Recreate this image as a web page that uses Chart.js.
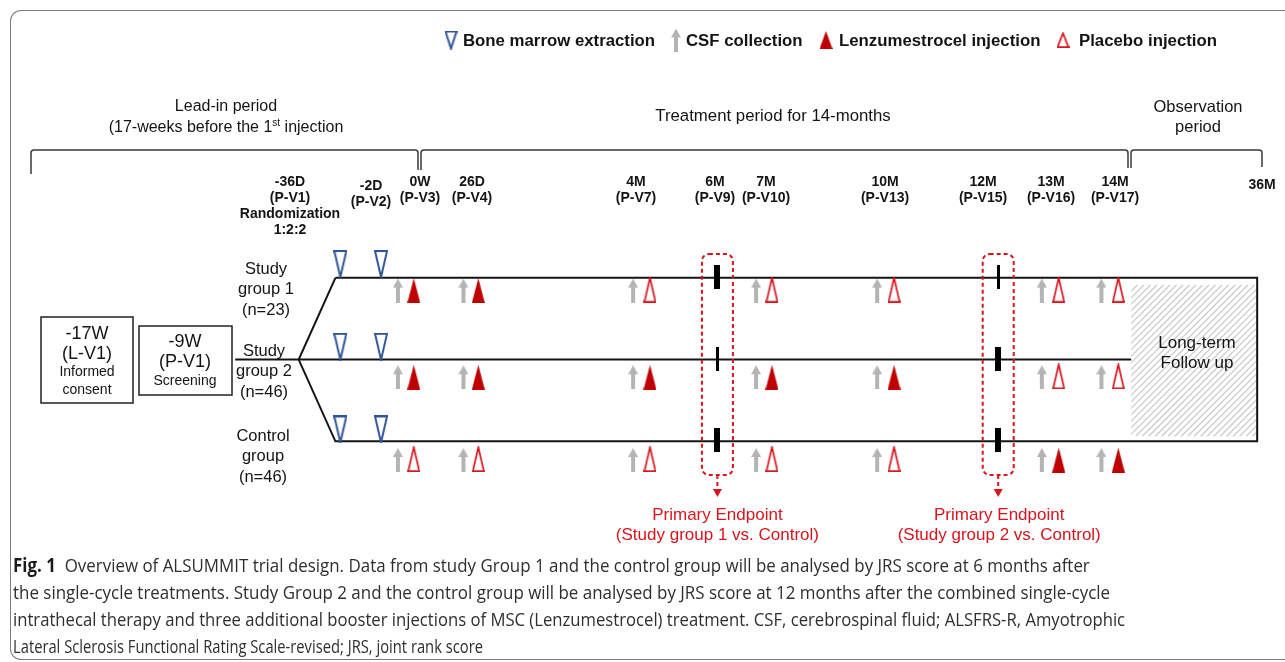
<!DOCTYPE html>
<html>
<head>
<meta charset="utf-8">
<script src="https://cdn.jsdelivr.net/npm/chart.js@4"></script>
<style>
  html, body { margin: 0; padding: 0; background: #fff; overflow: hidden; }
  body { width: 1285px; height: 662px; position: relative; }
  #frame { position: absolute; left: 10px; top: 10px; width: 1290px; height: 648px; border: 1.5px solid #7d7d7d; border-right: none; border-radius: 11px 0 0 11px; }
  #diagram { position: absolute; left: 0; top: 0; }
  #caption { position: absolute; left: 13px; top: 552px; font-family: 'Open Sans', sans-serif; font-size: 19px; line-height: 27px; color: #2e2e2e; white-space: nowrap; }
  #caption span { display: inline-block; transform-origin: 0 50%; }
  #caption b { color: #1a1a1a; }
</style>
</head>
<body>
<div id="frame"></div>
<canvas id="diagram" width="1285" height="662"></canvas>
<div id="caption">
  <div><span><b>Fig. 1</b>&nbsp; Overview of ALSUMMIT trial design. Data from study Group 1 and the control group will be analysed by JRS score at 6 months after</span></div>
  <div><span>the single-cycle treatments. Study Group 2 and the control group will be analysed by JRS score at 12 months after the combined single-cycle</span></div>
  <div><span>intrathecal therapy and three additional booster injections of MSC (Lenzumestrocel) treatment. CSF, cerebrospinal fluid; ALSFRS-R, Amyotrophic</span></div>
  <div><span>Lateral Sclerosis Functional Rating Scale-revised; JRS, joint rank score</span></div>
</div>
<script>
// schematic timeline: x = position along the trial timeline, y = arm row
const GROUPS = ['Study group 1', 'Study group 2', 'Control group'];
const GROUP_N = [23, 46, 46];
const GROUP_ROW = [277, 360, 443];

const VISITS = ['-36D', '-2D', '0W', '26D', '4M', '6M', '7M', '10M', '12M', '13M', '14M', '36M'];
const VISIT_CODES = ['P-V1', 'P-V2', 'P-V3', 'P-V4', 'P-V7', 'P-V9', 'P-V10', 'P-V13', 'P-V15', 'P-V16', 'P-V17', null];

// events on the timeline
const BONE_MARROW_T = [338, 379];
const CSF_T = [396, 462, 633, 757, 879, 1045, 1105];
const INJECTION_T = [412, 477, 650, 773, 896, 1062, 1122];
const INJECTION_KIND = [
  ['L', 'L', 'P', 'P', 'P', 'P', 'P'],
  ['L', 'L', 'L', 'L', 'L', 'P', 'P'],
  ['P', 'P', 'P', 'P', 'P', 'L', 'L'],
];
const ASSESS_T = [718, 1001];          // JRS at 6M and 12M
const ASSESS_PRIMARY = [[1, 0], [0, 1], [1, 1]];
const ENDPOINT_LABELS = ['(Study group 1 vs. Control)', '(Study group 2 vs. Control)'];

// arm geometry
const SCREEN_END = 232;
const BRANCH_T = 296;
const ARM_START = 333;
const FOLLOW_START = 1135;
const FOLLOW_END = 1262;

const RED = '#c00000';
const RED_LINE = '#d8141c';
const BLUE = '#2f5597';
const GREY = '#b4b4b4';
const INK = '#141414';
const FONT = "'Liberation Sans', Arial, sans-serif";

// marker offsets from each row line
const DROP_BELOW = [13, 18, 19];
const LIFT_ABOVE = [14, 13, 12];

function makeSprite(w, h, paint) {
  const c = document.createElement('canvas');
  c.width = w; c.height = h;
  paint(c.getContext('2d'), w, h);
  return c;
}
const filledTri = (ctx, w, h) => {
  ctx.fillStyle = RED;
  ctx.beginPath(); ctx.moveTo(w / 2, 0); ctx.lineTo(w, h); ctx.lineTo(0, h); ctx.closePath(); ctx.fill();
};
const openTri = (ctx, w, h) => {
  ctx.strokeStyle = RED_LINE; ctx.lineWidth = 1.7;
  ctx.beginPath(); ctx.moveTo(w / 2, 1.2); ctx.lineTo(w - 1, h - 0.9); ctx.lineTo(1, h - 0.9); ctx.closePath(); ctx.stroke();
};
const downTri = (ctx, w, h) => {
  ctx.strokeStyle = BLUE; ctx.lineWidth = 2;
  ctx.beginPath(); ctx.moveTo(1, 1); ctx.lineTo(w - 1, 1); ctx.lineTo(w / 2, h - 1); ctx.closePath(); ctx.stroke();
};
const upArrow = (ctx, w, h) => {
  const head = Math.round(w * 0.9), s = 2;
  ctx.fillStyle = GREY;
  ctx.beginPath();
  ctx.moveTo(w / 2, 0); ctx.lineTo(w, head); ctx.lineTo(w / 2 + s, head); ctx.lineTo(w / 2 + s, h);
  ctx.lineTo(w / 2 - s, h); ctx.lineTo(w / 2 - s, head); ctx.lineTo(0, head); ctx.closePath(); ctx.fill();
};
const bar = (ctx, w, h) => { ctx.fillStyle = '#000'; ctx.fillRect(0, 0, w, h); };

const SPRITES = {
  filled: makeSprite(13, 25, filledTri),
  open: makeSprite(13, 26, openTri),
  marrow: makeSprite(14, 28, downTri),
  csf: makeSprite(10, 24, upArrow),
  thick: makeSprite(6, 24, bar),
  thin: makeSprite(3, 24, bar),
};
const LEGEND_SPRITES = {
  marrow: makeSprite(13, 19, downTri),
  csf: makeSprite(10, 23, upArrow),
  filled: makeSprite(13, 18, filledTri),
  open: makeSprite(13, 16, openTri),
};

function markerSet(points, sprite) {
  return { data: points, pointStyle: sprite, pointRadius: 1, showLine: false };
}
function lineSet(points) {
  return { data: points, showLine: true, borderColor: INK, borderWidth: 2, pointRadius: 0, fill: false, tension: 0 };
}

const datasets = [];
GROUP_ROW.forEach((row, g) => {
  const below = row + DROP_BELOW[g];
  datasets.push(markerSet(ASSESS_T.filter((_, k) => ASSESS_PRIMARY[g][k]).map(t => ({ x: t, y: row - 1 })), SPRITES.thick));
  datasets.push(markerSet(ASSESS_T.filter((_, k) => !ASSESS_PRIMARY[g][k]).map(t => ({ x: t, y: row - 1 })), SPRITES.thin));
  datasets.push(markerSet(BONE_MARROW_T.map(t => ({ x: t, y: row - LIFT_ABOVE[g] })), SPRITES.marrow));
  datasets.push(markerSet(CSF_T.map(t => ({ x: t, y: below })), SPRITES.csf));
  datasets.push(markerSet(INJECTION_T.filter((_, k) => INJECTION_KIND[g][k] === 'L').map(t => ({ x: t, y: below })), SPRITES.filled));
  datasets.push(markerSet(INJECTION_T.filter((_, k) => INJECTION_KIND[g][k] === 'P').map(t => ({ x: t, y: below - 1 })), SPRITES.open));
});
datasets.push(lineSet([{ x: ARM_START, y: GROUP_ROW[0] }, { x: FOLLOW_END, y: GROUP_ROW[0] }, { x: FOLLOW_END, y: GROUP_ROW[2] }, { x: ARM_START, y: GROUP_ROW[2] }, { x: BRANCH_T, y: GROUP_ROW[1] }, { x: ARM_START, y: GROUP_ROW[0] }]));
datasets.push(lineSet([{ x: SCREEN_END, y: GROUP_ROW[1] }, { x: FOLLOW_START, y: GROUP_ROW[1] }]));

function drawText(ctx, str, x, y, size, opts = {}) {
  ctx.font = `${opts.bold ? 'bold ' : ''}${size}px ${FONT}`;
  ctx.fillStyle = opts.color || INK;
  ctx.textAlign = opts.align || 'center';
  ctx.textBaseline = 'middle';
  ctx.fillText(str, x, y);
}
function drawLines(ctx, lines, x, y0, gap, size, opts) {
  lines.forEach((s, i) => drawText(ctx, s, x, y0 + i * gap, size, opts));
}

const trialDiagram = {
  id: 'trialDiagram',
  beforeDatasetsDraw(chart) {
    const { ctx, scales: { x, y } } = chart;
    const px = v => x.getPixelForValue(v), py = v => y.getPixelForValue(v);
    ctx.save();
    // follow-up hatch
    const hx = px(FOLLOW_START), hy = py(GROUP_ROW[0] + 7), hw = px(FOLLOW_END) - hx, hh = py(GROUP_ROW[2] - 5) - hy;
    ctx.save();
    ctx.beginPath(); ctx.rect(hx, hy, hw, hh); ctx.clip();
    ctx.strokeStyle = '#cdcdcd'; ctx.lineWidth = 1.4;
    ctx.beginPath();
    for (let k = -hh; k < hw + hh; k += 6.5) { ctx.moveTo(hx + k, hy + hh); ctx.lineTo(hx + k + hh, hy); }
    ctx.stroke();
    ctx.restore();
    // period brackets
    ctx.strokeStyle = '#3a3a3a'; ctx.lineWidth = 1.5;
    const bracket = (a, b, ya, yb) => {
      ctx.beginPath();
      ctx.moveTo(a, ya); ctx.lineTo(a, 153); ctx.quadraticCurveTo(a, 150, a + 3, 150);
      ctx.lineTo(b - 3, 150); ctx.quadraticCurveTo(b, 150, b, 153); ctx.lineTo(b, yb);
      ctx.stroke();
    };
    bracket(31, 418, 174, 170);
    bracket(421, 1128, 170, 168);
    bracket(1131, 1262, 168, 167);
    // visit boxes
    ctx.strokeStyle = '#222'; ctx.lineWidth = 1.5;
    ctx.strokeRect(41, 317, 92, 86);
    ctx.strokeRect(139, 326, 93, 69);
    ctx.restore();
  },
  afterDatasetsDraw(chart) {
    const { ctx, scales: { x } } = chart;
    const px = v => x.getPixelForValue(v);
    ctx.save();

    // legend
    const legend = [
      ['marrow', 451, 'Bone marrow extraction', 463],
      ['csf', 676, 'CSF collection', 686],
      ['filled', 826, 'Lenzumestrocel injection', 839],
      ['open', 1063, 'Placebo injection', 1079],
    ];
    legend.forEach(([key, mx, label, tx]) => {
      const s = LEGEND_SPRITES[key];
      ctx.drawImage(s, mx - s.width / 2, 40 - s.height / 2);
      drawText(ctx, label, tx, 41, 16.8, { bold: true, align: 'left' });
    });

    // periods
    drawText(ctx, 'Lead-in period', 226, 107, 16);
    ctx.font = `16px ${FONT}`;
    const pre = '(17-weeks before the 1', post = ' injection';
    const wPre = ctx.measureText(pre).width, wPost = ctx.measureText(post).width;
    ctx.font = `10px ${FONT}`;
    const wSup = ctx.measureText('st').width;
    const sx = 226 - (wPre + wSup + wPost) / 2;
    drawText(ctx, pre, sx, 128, 16, { align: 'left' });
    drawText(ctx, 'st', sx + wPre, 123, 10, { align: 'left' });
    drawText(ctx, post, sx + wPre + wSup, 128, 16, { align: 'left' });
    drawText(ctx, 'Treatment period for 14-months', 773, 116, 16.8);
    drawLines(ctx, ['Observation', 'period'], 1198, 107, 20, 16.5);

    // visit labels
    const labelX = [290, 371, 420, 472, 636, 715, 766, 885, 983, 1051, 1115, 1262];
    VISITS.forEach((v, i) => {
      const lines = VISIT_CODES[i] ? [v, `(${VISIT_CODES[i]})`] : [v];
      let y0 = 182;
      if (v === '-2D') y0 = 186;
      if (!VISIT_CODES[i]) y0 = 185;
      if (v === '-36D') lines.push('Randomization', '1:2:2');
      drawLines(ctx, lines, labelX[i], y0, 16, 14, { bold: true });
    });

    // screening boxes
    drawLines(ctx, ['-17W', '(L-V1)'], 87, 334, 20, 18);
    drawLines(ctx, ['Informed', 'consent'], 87, 372, 18, 14);
    drawLines(ctx, ['-9W', '(P-V1)'], 185, 342, 20, 18);
    drawText(ctx, 'Screening', 185, 381, 14);

    // arm labels
    const armLabel = [
      [['Study', 'group 1', `(n=${GROUP_N[0]})`], 266, 269],
      [['Study', 'group 2', `(n=${GROUP_N[1]})`], 264, 351],
      [['Control', 'group', `(n=${GROUP_N[2]})`], 263, 436],
    ];
    armLabel.forEach(([lines, lx, ly]) => drawLines(ctx, lines, lx, ly, 20.5, 16.5));

    drawLines(ctx, ['Long-term', 'Follow up'], 1197, 343, 20, 17);

    // primary endpoint windows
    ctx.strokeStyle = RED_LINE; ctx.fillStyle = RED_LINE; ctx.lineWidth = 2;
    ASSESS_T.forEach((t, k) => {
      const cx = px(t);
      ctx.setLineDash([4, 3]);
      ctx.beginPath(); ctx.roundRect(cx - 15.5, 254, 31, 221, 7); ctx.stroke();
      ctx.beginPath(); ctx.moveTo(cx, 475); ctx.lineTo(cx, 490); ctx.stroke();
      ctx.setLineDash([]);
      ctx.beginPath(); ctx.moveTo(cx - 4.5, 489); ctx.lineTo(cx + 4.5, 489); ctx.lineTo(cx, 497); ctx.closePath(); ctx.fill();
      drawLines(ctx, ['Primary Endpoint', ENDPOINT_LABELS[k]], cx + (k ? 1 : 0), 515, 20, 17, { color: RED_LINE });
    });
    ctx.restore();
  },
};

new Chart(document.getElementById('diagram'), {
  type: 'scatter',
  data: { datasets },
  options: {
    responsive: false,
    animation: false,
    events: [],
    layout: { padding: 0 },
    scales: {
      x: { type: 'linear', min: 0, max: 1285, display: false },
      y: { type: 'linear', min: 0, max: 662, reverse: true, display: false },
    },
    plugins: { legend: { display: false }, tooltip: { enabled: false } },
  },
  plugins: [trialDiagram],
});

// squeeze caption lines to the widths of the printed figure
const CAPTION_WIDTHS = [1077, 1097, 1112, 470];
document.querySelectorAll('#caption span').forEach((el, i) => {
  el.style.transform = `scaleX(${CAPTION_WIDTHS[i] / el.offsetWidth})`;
});
</script>
</body>
</html>
